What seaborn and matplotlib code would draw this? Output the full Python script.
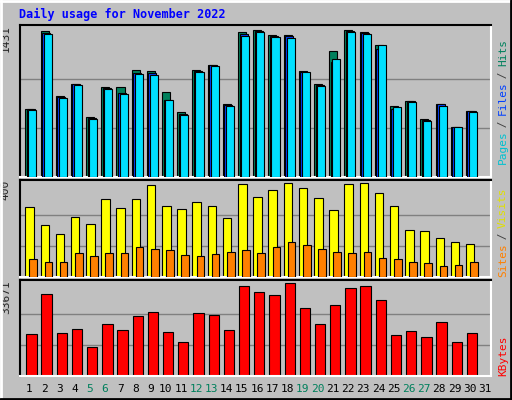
import numpy as np
import matplotlib
matplotlib.use("Agg")
import matplotlib.pyplot as plt
import seaborn as sns
from matplotlib.lines import Line2D

days = list(range(1, 32))
hits = [664,1422,790,910,586,878,878,1046,1033,829,638,1043,1095,713,1413,1432,1383,1383,1033,910,1228,1431,1413,1286,693,742,567,713,490,645]
files = [658,1403,784,904,573,865,816,1017,1011,752,618,1036,1089,703,1390,1419,1371,1371,1027,897,1124,1423,1400,1248,658,736,554,713,490,645]
pages = [651,1393,771,897,567,858,810,1004,994,752,606,1024,1082,693,1377,1413,1364,1354,1020,888,1150,1413,1393,1286,684,732,547,693,490,635]
visits = [300,222,183,257,227,331,296,335,391,305,292,318,305,253,396,343,370,400,378,339,287,396,400,357,305,201,196,166,149,140]
sites = [75,66,62,101,88,101,101,127,118,114,92,88,97,105,114,101,127,149,136,118,105,101,105,79,75,66,58,49,53,62]
kbytes = [15240,29620,15610,17080,10450,18930,16710,21880,23350,15980,12290,22980,22250,16710,32570,30350,29250,33671,24830,18930,25930,31830,32570,27770,14870,16340,14130,19660,12290,15610]
weekend = [5,6,12,13,19,20,26,27]
title = "Daily usage for November 2022"

sns.set_style("white")
plt.rcParams['font.family'] = ['DejaVu Sans Mono', 'DejaVu Sans']
W, H = 512, 400
fig = plt.figure(figsize=(5.12, 4.0), dpi=100)
fig.patch.set_facecolor("#C0C0C0")

def px(x0, y0, x1, y1):
    return [x0 / W, 1 - y1 / H, (x1 - x0) / W, (y1 - y0) / H]

# outer 3D border
fig.add_artist(Line2D([0, 1], [1 - 1/H, 1 - 1/H], color="white", lw=2, transform=fig.transFigure))
fig.add_artist(Line2D([1/W, 1/W], [0, 1], color="white", lw=2, transform=fig.transFigure))
fig.add_artist(Line2D([0, 1], [1/H, 1/H], color="black", lw=2, transform=fig.transFigure))
fig.add_artist(Line2D([1 - 1/W, 1 - 1/W], [0, 1], color="black", lw=2, transform=fig.transFigure))

n = len(hits)
d = np.arange(1, n + 1)

def setup(ax, ymax_val, label):
    ax.set_facecolor("#C0C0C0")
    ax.set_xlim(0.5, 31.5)
    ax.set_ylim(0, ymax_val * 1.035)
    for g in (ymax_val / 3, 2 * ymax_val / 3):
        ax.axhline(g, color="#808080", lw=1, zorder=0)
    ax.set_xticks([]); ax.set_yticks([])
    for s in ("top", "left"):
        ax.spines[s].set_color("black")
    for s in ("bottom", "right"):
        ax.spines[s].set_color("white")
    for s in ax.spines.values():
        s.set_linewidth(1.5)
    ax.text(-0.03, 1.0, label, transform=ax.transAxes, rotation=90, ha="center", va="top", fontsize=8)

# Top panel
ax1 = fig.add_axes(px(20, 25, 491, 177))
setup(ax1, 1431, "1431")
bw = 0.53
ax1.bar(d - 0.15 + bw/2, hits, width=bw, color="#00805C", edgecolor="black", lw=0.8, zorder=2)
ax1.bar(d - 0.05 + bw/2, files, width=bw, color="#0040FF", edgecolor="black", lw=0.8, zorder=3)
ax1.bar(d + 0.05 + bw/2, pages, width=bw, color="#00E0FF", edgecolor="black", lw=0.8, zorder=4)

# Middle panel
ax2 = fig.add_axes(px(20, 180, 491, 277))
setup(ax2, 400, "400")
ax2.bar(d - 0.15 + 0.28, visits, width=0.56, color="#FFFF00", edgecolor="black", lw=0.8, zorder=2)
ax2.bar(d + 0.12 + 0.25, sites, width=0.5, color="#FF8000", edgecolor="black", lw=0.8, zorder=3)

# Bottom panel
ax3 = fig.add_axes(px(20, 280, 491, 376))
setup(ax3, 33671, "33671")
ax3.bar(d - 0.09 + 0.34, kbytes, width=0.68, color="#FF0000", edgecolor="black", lw=0.8, zorder=2)

# x labels
for day in days:
    xf = (20 + (day - 0.5) / 31 * 471) / W
    col = "#00805C" if day in weekend else "black"
    fig.text(xf + 1.5 / W, 1 - 389 / H, str(day), ha="center", va="center", fontsize=8, color=col)

# right vertical labels
def vlabel(parts, ybottom):
    y = ybottom
    for t, c in parts:
        fig.text(503 / W, 1 - y / H, t, rotation=90, ha="center", va="bottom", fontsize=8, color=c)
        y -= 6.1 * len(t)

vlabel([("Pages", "#00C0D0"), (" / ", "#404040"), ("Files", "#0040FF"), (" / ", "#404040"), ("Hits", "#00805C")], 164)
vlabel([("Sites", "#FF8000"), (" / ", "#404040"), ("Visits", "#E0E000")], 277)
vlabel([("KBytes", "#FF0000")], 376)

fig.text(19 / W, 1 - 14 / H, title, ha="left", va="center", fontsize=8.5, fontweight="bold", color="#0000FF")

fig.savefig("out.png", dpi=100, facecolor=fig.get_facecolor())
